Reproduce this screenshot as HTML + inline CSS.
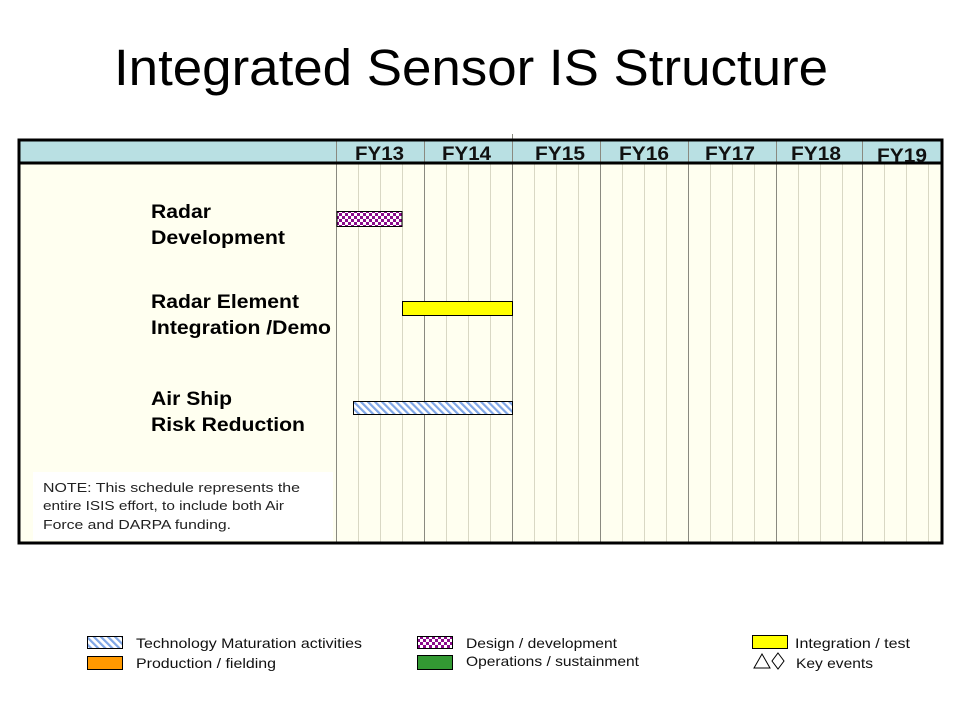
<!DOCTYPE html>
<html><head><meta charset="utf-8"><style>
html,body{margin:0;padding:0;background:#fff;}
svg{display:block;font-family:"Liberation Sans",Arial,sans-serif;}
</style></head><body>
<svg width="960" height="720" viewBox="0 0 960 720" xmlns="http://www.w3.org/2000/svg">
<defs>
<pattern id="chk" width="6" height="6" patternUnits="userSpaceOnUse">
<rect width="6" height="6" fill="#fff"/>
<rect width="3" height="3" fill="#8b0a8b"/>
<rect x="3" y="3" width="3" height="3" fill="#8b0a8b"/>
</pattern>
<pattern id="hat" width="5" height="5" patternUnits="userSpaceOnUse" patternTransform="rotate(-45)">
<rect width="5" height="5" fill="#fff"/>
<rect width="2.2" height="5" fill="#7fa6e6"/>
</pattern>
</defs>
<text x="114" y="85" font-size="51" textLength="714" lengthAdjust="spacingAndGlyphs">Integrated Sensor IS Structure</text>

<rect x="18" y="139" width="925" height="405" fill="#fffff0"/>
<rect x="18" y="139" width="925" height="24" fill="#b9e0e3"/>
<g stroke="#d9d8c4" stroke-width="1">
<line x1="358.5" y1="163" x2="358.5" y2="544"/><line x1="380.5" y1="163" x2="380.5" y2="544"/><line x1="402.5" y1="163" x2="402.5" y2="544"/>
<line x1="446.5" y1="163" x2="446.5" y2="544"/><line x1="468.5" y1="163" x2="468.5" y2="544"/><line x1="490.5" y1="163" x2="490.5" y2="544"/>
<line x1="534.5" y1="163" x2="534.5" y2="544"/><line x1="556.5" y1="163" x2="556.5" y2="544"/><line x1="578.5" y1="163" x2="578.5" y2="544"/>
<line x1="622.5" y1="163" x2="622.5" y2="544"/><line x1="644.5" y1="163" x2="644.5" y2="544"/><line x1="666.5" y1="163" x2="666.5" y2="544"/>
<line x1="710.5" y1="163" x2="710.5" y2="544"/><line x1="732.5" y1="163" x2="732.5" y2="544"/><line x1="754.5" y1="163" x2="754.5" y2="544"/>
<line x1="798.5" y1="163" x2="798.5" y2="544"/><line x1="820.5" y1="163" x2="820.5" y2="544"/><line x1="842.5" y1="163" x2="842.5" y2="544"/>
<line x1="884.5" y1="163" x2="884.5" y2="544"/><line x1="906.5" y1="163" x2="906.5" y2="544"/><line x1="928.5" y1="163" x2="928.5" y2="544"/>
</g>
<g stroke="#8a8a80" stroke-width="1">
<line x1="336.5" y1="139" x2="336.5" y2="544"/>
<line x1="424.5" y1="139" x2="424.5" y2="544"/>
<line x1="512.5" y1="134" x2="512.5" y2="544"/>
<line x1="600.5" y1="139" x2="600.5" y2="544"/>
<line x1="688.5" y1="139" x2="688.5" y2="544"/>
<line x1="776.5" y1="139" x2="776.5" y2="544"/>
<line x1="862.5" y1="139" x2="862.5" y2="544"/>
</g>
<line x1="18" y1="163" x2="942" y2="163" stroke="#000" stroke-width="3"/>
<rect x="19" y="140" width="923" height="403" fill="none" stroke="#000" stroke-width="3"/>

<g font-size="19" font-weight="bold" fill="#111">
<text x="355" y="160" textLength="49" lengthAdjust="spacingAndGlyphs">FY13</text>
<text x="442" y="160" textLength="49" lengthAdjust="spacingAndGlyphs">FY14</text>
<text x="535" y="160" textLength="50" lengthAdjust="spacingAndGlyphs">FY15</text>
<text x="619" y="160" textLength="50" lengthAdjust="spacingAndGlyphs">FY16</text>
<text x="705" y="160" textLength="50" lengthAdjust="spacingAndGlyphs">FY17</text>
<text x="791" y="160" textLength="50" lengthAdjust="spacingAndGlyphs">FY18</text>
<text x="877" y="162" textLength="50" lengthAdjust="spacingAndGlyphs">FY19</text>
</g>

<g font-size="19" font-weight="bold" fill="#000">
<text x="151" y="218" textLength="60" lengthAdjust="spacingAndGlyphs">Radar</text>
<text x="151" y="244" textLength="134" lengthAdjust="spacingAndGlyphs">Development</text>
<text x="151" y="308" textLength="148" lengthAdjust="spacingAndGlyphs">Radar Element</text>
<text x="151" y="334" textLength="180" lengthAdjust="spacingAndGlyphs">Integration /Demo</text>
<text x="151" y="405" textLength="81" lengthAdjust="spacingAndGlyphs">Air Ship</text>
<text x="151" y="431" textLength="154" lengthAdjust="spacingAndGlyphs">Risk Reduction</text>
</g>

<rect x="337" y="211.5" width="65" height="15" fill="url(#chk)" stroke="#000" stroke-width="1"/>
<rect x="402.5" y="301.5" width="110" height="14" fill="#ffff00" stroke="#000" stroke-width="1"/>
<rect x="353.5" y="401.5" width="159" height="13" fill="url(#hat)" stroke="#000" stroke-width="1"/>

<rect x="33" y="472" width="300" height="68" fill="#fff"/>
<g font-size="13" fill="#222">
<text x="43" y="492" textLength="257" lengthAdjust="spacingAndGlyphs">NOTE: This schedule represents the</text>
<text x="43" y="510" textLength="241" lengthAdjust="spacingAndGlyphs">entire ISIS effort, to include both Air</text>
<text x="43" y="529" textLength="188" lengthAdjust="spacingAndGlyphs">Force and DARPA funding.</text>
</g>

<rect x="87.5" y="636.5" width="35" height="12" fill="url(#hat)" stroke="#000"/>
<rect x="87.5" y="656.5" width="35" height="13" fill="#ff9900" stroke="#000"/>
<rect x="417.5" y="636.5" width="35" height="12" fill="url(#chk)" stroke="#000"/>
<rect x="417.5" y="655.5" width="35" height="14" fill="#339933" stroke="#000"/>
<rect x="752.5" y="635.5" width="35" height="13" fill="#ffff00" stroke="#000"/>
<polygon points="754,668 762,654 770,668" fill="none" stroke="#000"/>
<polygon points="778,653 784,661 778,669 772,661" fill="none" stroke="#000"/>
<g font-size="14" fill="#111">
<text x="136" y="648" textLength="226" lengthAdjust="spacingAndGlyphs">Technology  Maturation activities</text>
<text x="136" y="668" textLength="140" lengthAdjust="spacingAndGlyphs">Production / fielding</text>
<text x="466" y="648" textLength="151" lengthAdjust="spacingAndGlyphs">Design / development</text>
<text x="466" y="666" textLength="173" lengthAdjust="spacingAndGlyphs">Operations / sustainment</text>
<text x="795" y="648" textLength="115" lengthAdjust="spacingAndGlyphs">Integration  / test</text>
<text x="796" y="668" textLength="77" lengthAdjust="spacingAndGlyphs">Key events</text>
</g>
</svg>
</body></html>
